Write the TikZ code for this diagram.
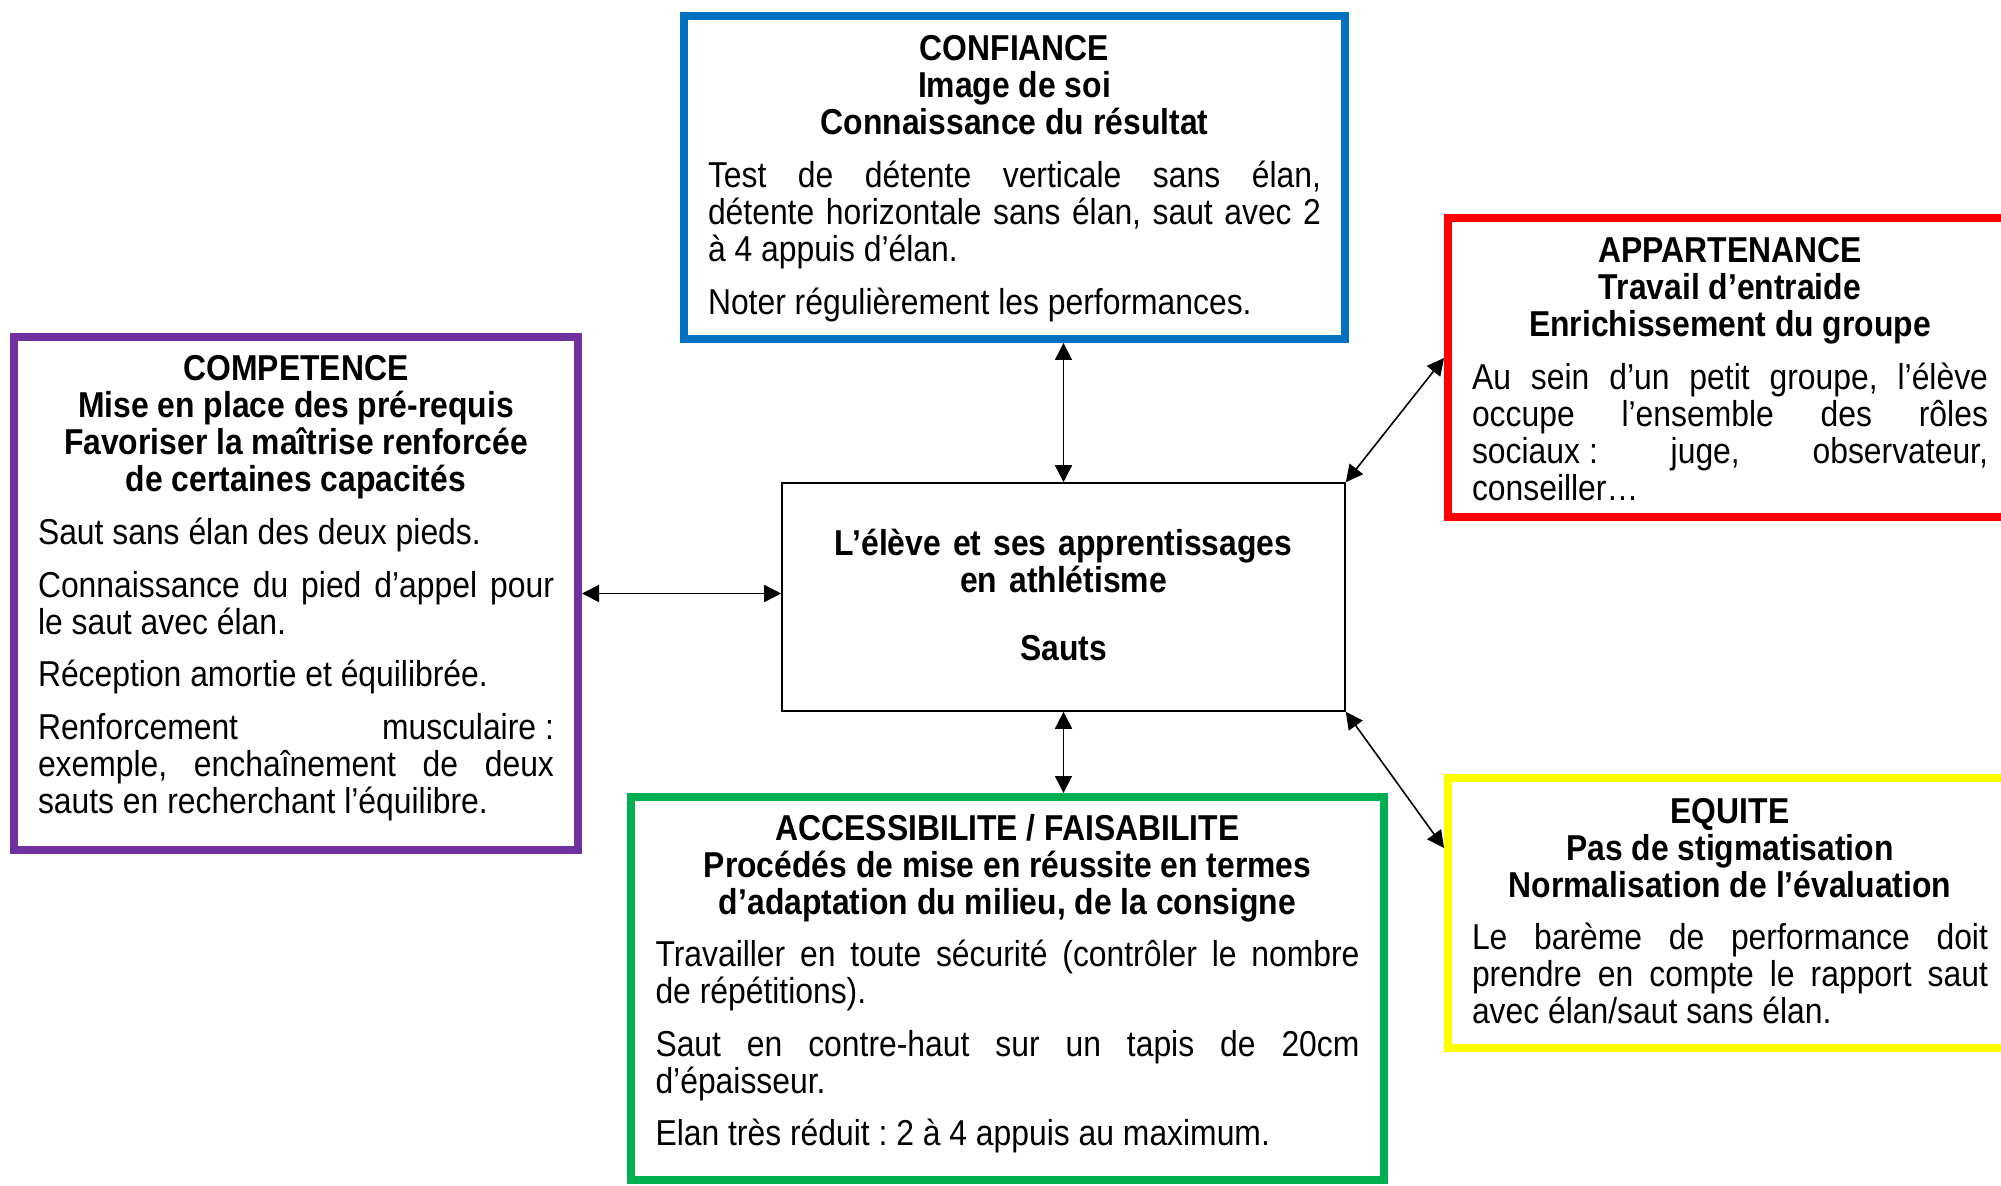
\documentclass[tikz,border=0pt]{standalone}
\usepackage{fontspec}
\setmainfont{Liberation Sans}[FakeStretch=0.885]
\usetikzlibrary{arrows.meta}
\definecolor{cblue}{HTML}{0070C0}
\definecolor{cred}{HTML}{FF0000}
\definecolor{cpurple}{HTML}{7030A0}
\definecolor{cgreen}{HTML}{00B050}
\definecolor{cyellow}{HTML}{FFFF00}
\newcommand{\bodysize}{\fontsize{18pt}{18.5pt}\selectfont\lineskiplimit=-100pt\frenchspacing}
\newcommand{\hd}[1]{{\centering\bfseries #1\par}\vspace{7.8pt}}
\newcommand{\pskip}{\par\vspace{7.8pt}}
\tikzset{
  frame/.style={draw, line width=4pt, inner sep=0pt},
  ctrframe/.style={draw, line width=0.8pt, inner sep=0pt},
  txt/.style={inner sep=0pt, anchor=base, align=justify, font=\bodysize},
  ctrtxt/.style={inner sep=0pt, anchor=base, align=center, font=\bodysize\bfseries},
  conn/.style={line width=0.8pt, {Triangle[length=8.5pt,width=8.5pt]}-{Triangle[length=8.5pt,width=8.5pt]}}
}
\begin{document}
\begin{tikzpicture}[x=0.5pt, y=-0.5pt]
\useasboundingbox (0,0) rectangle (2001,1186);
\clip (0,0) rectangle (2001,1186);
\fill[white] (0,0) rectangle (2001,1186);

% frames
\node[frame, draw=cblue, minimum width=330.5pt, minimum height=161.5pt] (conf) at (1014.5,177.5) {};
\node[frame, draw=cred, minimum width=282pt, minimum height=149.5pt] (app) at (1730,367.5) {};
\node[frame, draw=cpurple, minimum width=282pt, minimum height=256.5pt] (comp) at (296,593.5) {};
\node[ctrframe, minimum width=281.5pt, minimum height=114pt] (ctr) at (1063.5,597) {};
\node[frame, draw=cgreen, minimum width=376.5pt, minimum height=191.5pt] (acc) at (1007.5,988.5) {};
\node[frame, draw=cyellow, minimum width=282pt, minimum height=135pt] (equ) at (1730,913) {};

% texts
\node[txt, text width=306.5pt] (confT) at (1014.5,61) {\bodysize\hd{CONFIANCE\\Image de soi\\Connaissance du résultat}Test de détente verticale sans élan,\linebreak détente horizontale sans élan, saut avec 2\linebreak à 4 appuis d’élan.\pskip Noter régulièrement les performances.};

\node[txt, text width=258pt] (appT) at (1730,263) {\bodysize\hd{APPARTENANCE\\Travail d’entraide\\Enrichissement du groupe}Au sein d’un petit groupe, l’élève\linebreak occupe l’ensemble des rôles\linebreak sociaux\kern0.25em: juge, observateur,\linebreak conseiller…};

\node[txt, text width=258pt] (compT) at (296,381) {\bodysize\hd{COMPETENCE\\Mise en place des pré-requis\\Favoriser la maîtrise renforcée\\de certaines capacités}Saut sans élan des deux pieds.\pskip Connaissance du pied d’appel pour\linebreak le saut avec élan.\pskip Réception amortie et équilibrée.\pskip Renforcement musculaire\kern0.25em:\linebreak exemple, enchaînement de deux\linebreak sauts en recherchant l’équilibre.};

\node[ctrtxt, text width=281pt] (ctrT) at (1063.5,556) {L’élève et ses apprentissages\\en athlétisme\\[15.5pt]Sauts};

\node[txt, text width=352pt] (accT) at (1007.5,840) {\bodysize\hd{ACCESSIBILITE / FAISABILITE\\Procédés de mise en réussite en termes\\d’adaptation du milieu, de la consigne}Travailler en toute sécurité (contrôler le nombre\linebreak de répétitions).\pskip Saut en contre-haut sur un tapis de 20cm\linebreak d’épaisseur.\pskip Elan très réduit : 2 à 4 appuis au maximum.};

\node[txt, text width=258pt] (equT) at (1730,823) {\bodysize\hd{EQUITE\\Pas de stigmatisation\\Normalisation de l’évaluation}Le barème de performance doit\linebreak prendre en compte le rapport saut\linebreak avec élan/saut sans élan.};

% connectors
\draw[conn] (conf.south -| ctr.north) -- (ctr.north);
\draw[conn] (comp.east) -- (comp.east -| ctr.west);
\draw[conn] (ctr.south) -- (ctr.south |- acc.north);
\draw[conn] (ctr.north east) -- ([yshift=4.75pt]app.west);
\draw[conn] (ctr.south east) -- ([yshift=-37pt]equ.north west);
\end{tikzpicture}
\end{document}
